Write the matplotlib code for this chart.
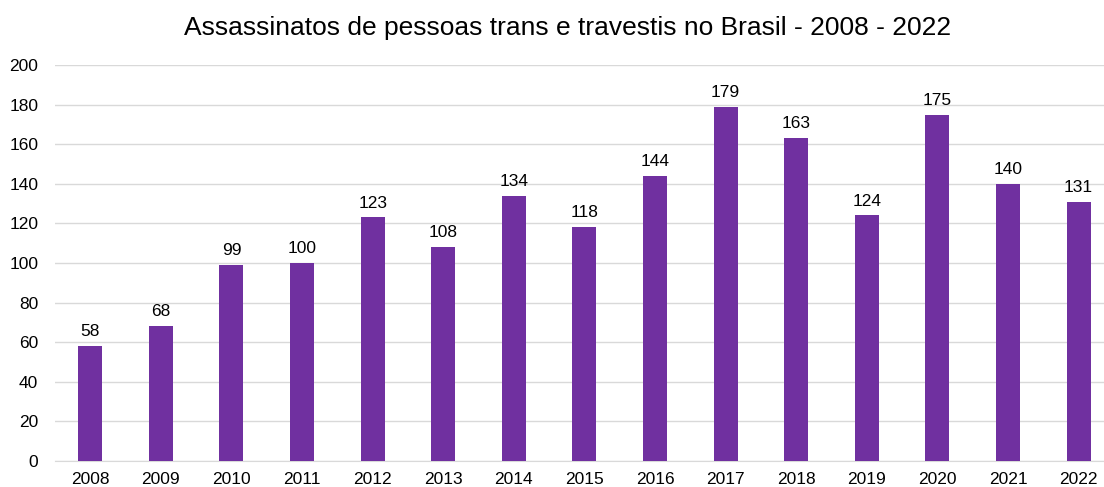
import numpy as np
import matplotlib.pyplot as plt

plt.rcParams['font.family'] = ['Liberation Sans', 'DejaVu Sans']

anos = ['2008', '2009', '2010', '2011', '2012', '2013', '2014', '2015',
        '2016', '2017', '2018', '2019', '2020', '2021', '2022']
assassinatos = [58, 68, 99, 100, 123, 108, 134, 118, 144, 179, 163, 124, 175, 140, 131]

fig = plt.figure(figsize=(11.04, 4.87), dpi=100)
ax = fig.add_axes([0.0498, 0.0534, 0.9502, 0.8131])

x = np.arange(len(anos))
bars = ax.bar(x, assassinatos, width=0.34, color='#7030A0', zorder=3)
ax.bar_label(bars, padding=5, fontsize=12.5, color='#000000')

ax.set_xlim(-0.5, 14.36)
ax.set_ylim(0, 200)
ax.set_yticks(range(0, 201, 20))
ax.set_xticks(x)
ax.set_xticklabels(anos)
ax.tick_params(axis='both', length=0, labelsize=12.5, colors='#000000')
ax.tick_params(axis='y', pad=12)
ax.tick_params(axis='x', pad=8)
ax.grid(axis='y', color='#D9D9D9', lw=1, zorder=0)
for s in ['top', 'right', 'left']:
    ax.spines[s].set_visible(False)
ax.spines['bottom'].set_color('#D9D9D9')

fig.suptitle('Assassinatos de pessoas trans e travestis no Brasil - 2008 - 2022',
             fontsize=19, x=0.514, y=0.942, va='center')

plt.savefig('out.png', dpi=100)
